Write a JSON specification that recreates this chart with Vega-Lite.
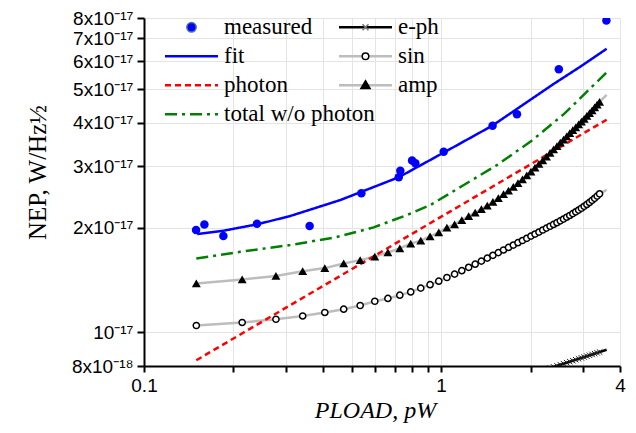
{
  "$schema": "https://vega.github.io/schema/vega-lite/v6.json",
  "width": 476,
  "height": 348,
  "autosize": {"type": "none"},
  "padding": {"left": 144, "top": 18, "right": 16, "bottom": 67},
  "background": "white",
  "config": {"view": {"stroke": null}},
  "data": {"values": [
    {"s":"measured","P":0.1497,"NEP":1.966e-17,"k":"m"},
    {"s":"measured","P":0.1597,"NEP":2.04e-17,"k":"m"},
    {"s":"measured","P":0.185,"NEP":1.89e-17,"k":"m"},
    {"s":"measured","P":0.24,"NEP":2.05e-17,"k":"m"},
    {"s":"measured","P":0.361,"NEP":2.02e-17,"k":"m"},
    {"s":"measured","P":0.539,"NEP":2.51e-17,"k":"m"},
    {"s":"measured","P":0.72,"NEP":2.789e-17,"k":"m"},
    {"s":"measured","P":0.729,"NEP":2.913e-17,"k":"m"},
    {"s":"measured","P":0.7985,"NEP":3.114e-17,"k":"m"},
    {"s":"measured","P":0.819,"NEP":3.06e-17,"k":"m"},
    {"s":"measured","P":1.02,"NEP":3.30e-17,"k":"m"},
    {"s":"measured","P":1.49,"NEP":3.92e-17,"k":"m"},
    {"s":"measured","P":1.80,"NEP":4.23e-17,"k":"m"},
    {"s":"measured","P":2.49,"NEP":5.70e-17,"k":"m"},
    {"s":"measured","P":3.60,"NEP":7.87e-17,"k":"m"},
    {"s":"fit","P":0.151,"NEP":1.915e-17,"k":"l"},
    {"s":"fit","P":0.185,"NEP":1.958e-17,"k":"l"},
    {"s":"fit","P":0.24,"NEP":2.042e-17,"k":"l"},
    {"s":"fit","P":0.3105,"NEP":2.158e-17,"k":"l"},
    {"s":"fit","P":0.458,"NEP":2.399e-17,"k":"l"},
    {"s":"fit","P":0.72,"NEP":2.789e-17,"k":"l"},
    {"s":"fit","P":1.02,"NEP":3.283e-17,"k":"l"},
    {"s":"fit","P":1.489,"NEP":3.926e-17,"k":"l"},
    {"s":"fit","P":2.396,"NEP":5.176e-17,"k":"l"},
    {"s":"fit","P":2.948,"NEP":5.805e-17,"k":"l"},
    {"s":"fit","P":3.606,"NEP":6.526e-17,"k":"l"},
    {"s":"photon","P":0.15,"NEP":8.31e-18,"k":"l"},
    {"s":"photon","P":3.606,"NEP":4.08e-17,"k":"l"},
    {"s":"total w/o photon","P":0.15,"NEP":1.630e-17,"k":"l"},
    {"s":"total w/o photon","P":0.2107,"NEP":1.703e-17,"k":"l"},
    {"s":"total w/o photon","P":0.3105,"NEP":1.781e-17,"k":"l"},
    {"s":"total w/o photon","P":0.44,"NEP":1.874e-17,"k":"l"},
    {"s":"total w/o photon","P":0.593,"NEP":2.002e-17,"k":"l"},
    {"s":"total w/o photon","P":0.768,"NEP":2.173e-17,"k":"l"},
    {"s":"total w/o photon","P":0.92,"NEP":2.321e-17,"k":"l"},
    {"s":"total w/o photon","P":1.192,"NEP":2.65e-17,"k":"l"},
    {"s":"total w/o photon","P":1.544,"NEP":3.026e-17,"k":"l"},
    {"s":"total w/o photon","P":2.0,"NEP":3.531e-17,"k":"l"},
    {"s":"total w/o photon","P":2.589,"NEP":4.234e-17,"k":"l"},
    {"s":"total w/o photon","P":3.268,"NEP":5.142e-17,"k":"l"},
    {"s":"total w/o photon","P":3.606,"NEP":5.578e-17,"k":"l"},
    {"s":"amp","P":0.150,"NEP":1.381e-17,"k":"b"},
    {"s":"amp","P":0.214,"NEP":1.418e-17,"k":"b"},
    {"s":"amp","P":0.278,"NEP":1.452e-17,"k":"b"},
    {"s":"amp","P":0.342,"NEP":1.498e-17,"k":"b"},
    {"s":"amp","P":0.406,"NEP":1.529e-17,"k":"b"},
    {"s":"amp","P":0.470,"NEP":1.577e-17,"k":"b"},
    {"s":"amp","P":0.534,"NEP":1.612e-17,"k":"b"},
    {"s":"amp","P":0.598,"NEP":1.650e-17,"k":"b"},
    {"s":"amp","P":0.662,"NEP":1.696e-17,"k":"b"},
    {"s":"amp","P":0.726,"NEP":1.742e-17,"k":"b"},
    {"s":"amp","P":0.790,"NEP":1.798e-17,"k":"b"},
    {"s":"amp","P":0.854,"NEP":1.834e-17,"k":"b"},
    {"s":"amp","P":0.918,"NEP":1.886e-17,"k":"b"},
    {"s":"amp","P":0.982,"NEP":1.937e-17,"k":"b"},
    {"s":"amp","P":1.046,"NEP":1.999e-17,"k":"b"},
    {"s":"amp","P":1.110,"NEP":2.042e-17,"k":"b"},
    {"s":"amp","P":1.174,"NEP":2.101e-17,"k":"b"},
    {"s":"amp","P":1.238,"NEP":2.158e-17,"k":"b"},
    {"s":"amp","P":1.302,"NEP":2.208e-17,"k":"b"},
    {"s":"amp","P":1.366,"NEP":2.260e-17,"k":"b"},
    {"s":"amp","P":1.430,"NEP":2.313e-17,"k":"b"},
    {"s":"amp","P":1.494,"NEP":2.371e-17,"k":"b"},
    {"s":"amp","P":1.558,"NEP":2.431e-17,"k":"b"},
    {"s":"amp","P":1.622,"NEP":2.496e-17,"k":"b"},
    {"s":"amp","P":1.686,"NEP":2.555e-17,"k":"b"},
    {"s":"amp","P":1.750,"NEP":2.615e-17,"k":"b"},
    {"s":"amp","P":1.814,"NEP":2.685e-17,"k":"b"},
    {"s":"amp","P":1.878,"NEP":2.752e-17,"k":"b"},
    {"s":"amp","P":1.942,"NEP":2.822e-17,"k":"b"},
    {"s":"amp","P":2.006,"NEP":2.896e-17,"k":"b"},
    {"s":"amp","P":2.070,"NEP":2.972e-17,"k":"b"},
    {"s":"amp","P":2.134,"NEP":3.046e-17,"k":"b"},
    {"s":"amp","P":2.198,"NEP":3.121e-17,"k":"b"},
    {"s":"amp","P":2.262,"NEP":3.199e-17,"k":"b"},
    {"s":"amp","P":2.326,"NEP":3.276e-17,"k":"b"},
    {"s":"amp","P":2.390,"NEP":3.353e-17,"k":"b"},
    {"s":"amp","P":2.454,"NEP":3.429e-17,"k":"b"},
    {"s":"amp","P":2.518,"NEP":3.505e-17,"k":"b"},
    {"s":"amp","P":2.582,"NEP":3.580e-17,"k":"b"},
    {"s":"amp","P":2.646,"NEP":3.657e-17,"k":"b"},
    {"s":"amp","P":2.710,"NEP":3.733e-17,"k":"b"},
    {"s":"amp","P":2.774,"NEP":3.808e-17,"k":"b"},
    {"s":"amp","P":2.838,"NEP":3.882e-17,"k":"b"},
    {"s":"amp","P":2.902,"NEP":3.957e-17,"k":"b"},
    {"s":"amp","P":2.966,"NEP":4.032e-17,"k":"b"},
    {"s":"amp","P":3.030,"NEP":4.107e-17,"k":"b"},
    {"s":"amp","P":3.094,"NEP":4.187e-17,"k":"b"},
    {"s":"amp","P":3.158,"NEP":4.265e-17,"k":"b"},
    {"s":"amp","P":3.222,"NEP":4.345e-17,"k":"b"},
    {"s":"amp","P":3.286,"NEP":4.426e-17,"k":"b"},
    {"s":"amp","P":3.350,"NEP":4.509e-17,"k":"b"},
    {"s":"amp","P":3.414,"NEP":4.591e-17,"k":"b"},
    {"s":"amp","P":3.606,"NEP":4.812e-17,"k":"l"},
    {"s":"sin","P":0.150,"NEP":1.046e-17,"k":"b"},
    {"s":"sin","P":0.214,"NEP":1.067e-17,"k":"b"},
    {"s":"sin","P":0.278,"NEP":1.090e-17,"k":"b"},
    {"s":"sin","P":0.342,"NEP":1.114e-17,"k":"b"},
    {"s":"sin","P":0.406,"NEP":1.140e-17,"k":"b"},
    {"s":"sin","P":0.470,"NEP":1.165e-17,"k":"b"},
    {"s":"sin","P":0.534,"NEP":1.194e-17,"k":"b"},
    {"s":"sin","P":0.598,"NEP":1.228e-17,"k":"b"},
    {"s":"sin","P":0.662,"NEP":1.251e-17,"k":"b"},
    {"s":"sin","P":0.726,"NEP":1.278e-17,"k":"b"},
    {"s":"sin","P":0.790,"NEP":1.306e-17,"k":"b"},
    {"s":"sin","P":0.854,"NEP":1.339e-17,"k":"b"},
    {"s":"sin","P":0.918,"NEP":1.370e-17,"k":"b"},
    {"s":"sin","P":0.982,"NEP":1.402e-17,"k":"b"},
    {"s":"sin","P":1.046,"NEP":1.437e-17,"k":"b"},
    {"s":"sin","P":1.110,"NEP":1.469e-17,"k":"b"},
    {"s":"sin","P":1.174,"NEP":1.503e-17,"k":"b"},
    {"s":"sin","P":1.238,"NEP":1.537e-17,"k":"b"},
    {"s":"sin","P":1.302,"NEP":1.569e-17,"k":"b"},
    {"s":"sin","P":1.366,"NEP":1.601e-17,"k":"b"},
    {"s":"sin","P":1.430,"NEP":1.633e-17,"k":"b"},
    {"s":"sin","P":1.494,"NEP":1.664e-17,"k":"b"},
    {"s":"sin","P":1.558,"NEP":1.694e-17,"k":"b"},
    {"s":"sin","P":1.622,"NEP":1.724e-17,"k":"b"},
    {"s":"sin","P":1.686,"NEP":1.753e-17,"k":"b"},
    {"s":"sin","P":1.750,"NEP":1.781e-17,"k":"b"},
    {"s":"sin","P":1.814,"NEP":1.809e-17,"k":"b"},
    {"s":"sin","P":1.878,"NEP":1.835e-17,"k":"b"},
    {"s":"sin","P":1.942,"NEP":1.862e-17,"k":"b"},
    {"s":"sin","P":2.006,"NEP":1.889e-17,"k":"b"},
    {"s":"sin","P":2.070,"NEP":1.915e-17,"k":"b"},
    {"s":"sin","P":2.134,"NEP":1.941e-17,"k":"b"},
    {"s":"sin","P":2.198,"NEP":1.967e-17,"k":"b"},
    {"s":"sin","P":2.262,"NEP":1.992e-17,"k":"b"},
    {"s":"sin","P":2.326,"NEP":2.017e-17,"k":"b"},
    {"s":"sin","P":2.390,"NEP":2.041e-17,"k":"b"},
    {"s":"sin","P":2.454,"NEP":2.065e-17,"k":"b"},
    {"s":"sin","P":2.518,"NEP":2.090e-17,"k":"b"},
    {"s":"sin","P":2.582,"NEP":2.115e-17,"k":"b"},
    {"s":"sin","P":2.646,"NEP":2.141e-17,"k":"b"},
    {"s":"sin","P":2.710,"NEP":2.166e-17,"k":"b"},
    {"s":"sin","P":2.774,"NEP":2.192e-17,"k":"b"},
    {"s":"sin","P":2.838,"NEP":2.219e-17,"k":"b"},
    {"s":"sin","P":2.902,"NEP":2.245e-17,"k":"b"},
    {"s":"sin","P":2.966,"NEP":2.272e-17,"k":"b"},
    {"s":"sin","P":3.030,"NEP":2.301e-17,"k":"b"},
    {"s":"sin","P":3.094,"NEP":2.330e-17,"k":"b"},
    {"s":"sin","P":3.158,"NEP":2.361e-17,"k":"b"},
    {"s":"sin","P":3.222,"NEP":2.393e-17,"k":"b"},
    {"s":"sin","P":3.286,"NEP":2.426e-17,"k":"b"},
    {"s":"sin","P":3.350,"NEP":2.462e-17,"k":"b"},
    {"s":"sin","P":3.414,"NEP":2.500e-17,"k":"b"},
    {"s":"sin","P":3.606,"NEP":2.564e-17,"k":"l"},
    {"s":"e-ph","P":2.2,"NEP":7.77e-18,"k":"l"},
    {"s":"e-ph","P":2.485,"NEP":8.04e-18,"k":"l"},
    {"s":"e-ph","P":3.312,"NEP":8.70e-18,"k":"l"},
    {"s":"e-ph","P":3.606,"NEP":8.91e-18,"k":"l"},
    {"s":"e-ph","P":2.262,"NEP":7.835e-18,"k":"m"},
    {"s":"e-ph","P":2.326,"NEP":7.897e-18,"k":"m"},
    {"s":"e-ph","P":2.390,"NEP":7.954e-18,"k":"m"},
    {"s":"e-ph","P":2.454,"NEP":8.01e-18,"k":"m"},
    {"s":"e-ph","P":2.518,"NEP":8.07e-18,"k":"m"},
    {"s":"e-ph","P":2.582,"NEP":8.125e-18,"k":"m"},
    {"s":"e-ph","P":2.646,"NEP":8.18e-18,"k":"m"},
    {"s":"e-ph","P":2.710,"NEP":8.234e-18,"k":"m"},
    {"s":"e-ph","P":2.774,"NEP":8.287e-18,"k":"m"},
    {"s":"e-ph","P":2.838,"NEP":8.339e-18,"k":"m"},
    {"s":"e-ph","P":2.902,"NEP":8.39e-18,"k":"m"},
    {"s":"e-ph","P":2.966,"NEP":8.441e-18,"k":"m"},
    {"s":"e-ph","P":3.030,"NEP":8.491e-18,"k":"m"},
    {"s":"e-ph","P":3.094,"NEP":8.54e-18,"k":"m"},
    {"s":"e-ph","P":3.158,"NEP":8.588e-18,"k":"m"},
    {"s":"e-ph","P":3.222,"NEP":8.636e-18,"k":"m"},
    {"s":"e-ph","P":3.286,"NEP":8.682e-18,"k":"m"},
    {"s":"e-ph","P":3.350,"NEP":8.729e-18,"k":"m"},
    {"s":"e-ph","P":3.414,"NEP":8.775e-18,"k":"m"}
  ]},
  "encoding": {
    "x": {
      "field": "P", "type": "quantitative",
      "scale": {"type": "log", "domain": [0.1, 4], "nice": false},
      "axis": {
        "values": [0.1, 0.2, 0.3, 0.4, 0.5, 0.6, 0.7, 0.8, 0.9, 1, 2, 3, 4],
        "labelExpr": "datum.value == 0.1 ? '0.1' : (datum.value == 1 ? '1' : (datum.value == 4 ? '4' : ''))",
        "labelFlush": false, "labelOverlap": false,
        "labelFont": "Liberation Sans", "labelFontSize": 19, "labelColor": "#000000", "labelPadding": 4,
        "tickSize": 6, "tickWidth": 2, "tickColor": "#000000",
        "domainColor": "#000000", "domainWidth": 2,
        "grid": true, "gridColor": "#e4e4e4", "gridWidth": 1,
        "title": "PLOAD, pW", "titleFont": "Liberation Serif", "titleFontSize": 24,
        "titleFontWeight": "normal", "titleFontStyle": "italic", "titleColor": "#000000",
        "titleX": 231, "titleY": 51, "titleBaseline": "alphabetic", "titleAlign": "center"
      }
    },
    "y": {
      "field": "NEP", "type": "quantitative",
      "scale": {"type": "log", "domain": [8e-18, 8e-17], "nice": false},
      "axis": {
        "values": [8e-18, 1e-17, 2e-17, 3e-17, 4e-17, 5e-17, 6e-17, 7e-17, 8e-17],
        "labelExpr": "datum.value < 9e-18 ? '8x10⁻¹⁸' : (datum.value < 1.5e-17 ? '10⁻¹⁷' : round(datum.value * 1e17) + 'x10⁻¹⁷')",
        "labelOverlap": false, "labelFlush": false,
        "labelFont": "Liberation Sans", "labelFontSize": 19, "labelColor": "#000000", "labelPadding": 4,
        "tickSize": 7, "tickWidth": 2, "tickColor": "#000000",
        "domainColor": "#000000", "domainWidth": 2,
        "grid": true, "gridColor": "#e4e4e4", "gridWidth": 1,
        "title": "NEP, W/Hz½", "titleFont": "Liberation Serif", "titleFontSize": 25,
        "titleFontWeight": "normal", "titleColor": "#000000",
        "titleX": -99, "titleY": 154, "titleAngle": -90, "titleBaseline": "alphabetic", "titleAlign": "center"
      }
    }
  },
  "layer": [
    {
      "transform": [{"filter": "datum.k != 'm' && (datum.s == 'e-ph' || datum.s == 'sin' || datum.s == 'amp')"}],
      "mark": {"type": "line", "strokeWidth": 2.5, "clip": true},
      "encoding": {
        "stroke": {
          "field": "s", "type": "nominal",
          "scale": {"domain": ["e-ph", "sin", "amp"], "range": ["#000000", "#bdbdbd", "#bdbdbd"]},
          "legend": {"title": null, "orient": "none", "direction": "vertical", "legendX": 193.5, "legendY": -2.2, "rowPadding": 5, "clipHeight": 23, "symbolType": "stroke", "symbolSize": 2809, "symbolStrokeWidth": 2.5, "symbolOffset": 0, "labelFont": "Liberation Serif", "labelFontSize": 23, "labelColor": "#000000", "labelOffset": 4.5, "labelLimit": 400, "padding": 0}
        }
      }
    },
    {
      "transform": [{"filter": "datum.k != 'm' && (datum.s == 'fit' || datum.s == 'photon' || datum.s == 'total w/o photon')"}],
      "mark": {"type": "line", "strokeWidth": 2.5, "clip": true},
      "encoding": {
        "stroke": {
          "field": "s", "type": "nominal",
          "scale": {"domain": ["measured", "fit", "photon", "total w/o photon"], "range": ["transparent", "#0000ff", "#ff0000", "#008000"]},
          "legend": {"title": null, "orient": "none", "direction": "vertical", "legendX": 19.5, "legendY": -2.2, "rowPadding": 5, "clipHeight": 23, "symbolType": "stroke", "symbolSize": 2809, "symbolStrokeWidth": 2.5, "symbolOffset": 0, "labelFont": "Liberation Serif", "labelFontSize": 23, "labelColor": "#000000", "labelOffset": 4.5, "labelLimit": 400, "padding": 0}
        },
        "strokeDash": {
          "field": "s", "type": "nominal",
          "scale": {"domain": ["measured", "fit", "photon", "total w/o photon"], "range": [[1, 0], [1, 0], [6, 4], [12, 5, 3, 5]]},
          "legend": {"title": null, "orient": "none", "direction": "vertical", "legendX": 19.5, "legendY": -2.2, "rowPadding": 5, "clipHeight": 23, "symbolType": "stroke", "symbolSize": 2809, "symbolStrokeWidth": 2.5, "symbolOffset": 0, "labelFont": "Liberation Serif", "labelFontSize": 23, "labelColor": "#000000", "labelOffset": 4.5, "labelLimit": 400, "padding": 0}
        }
      }
    },
    {
      "transform": [{"filter": "datum.s == 'measured'"}],
      "mark": {"type": "point", "shape": "circle", "filled": true, "color": "#0000ff", "size": 72, "opacity": 1, "clip": true}
    },
    {
      "transform": [{"filter": "datum.s == 'sin' && datum.k == 'b'"}],
      "mark": {"type": "point", "shape": "circle", "fill": "#ffffff", "stroke": "#000000", "strokeWidth": 1.5, "size": 38, "opacity": 1, "clip": true}
    },
    {
      "transform": [{"filter": "datum.s == 'amp' && datum.k == 'b'"}],
      "mark": {"type": "point", "shape": "triangle-up", "filled": true, "color": "#000000", "size": 80, "opacity": 1, "clip": true}
    },
    {
      "transform": [{"filter": "datum.s == 'e-ph' && datum.k == 'm'"}],
      "mark": {"type": "point", "shape": "M-1,-1L1,1M-1,1L1,-1", "filled": false, "stroke": "#222222", "strokeWidth": 1, "size": 30, "opacity": 1, "clip": true}
    },
    {
      "transform": [{"filter": "false"}],
      "mark": {"type": "point", "strokeWidth": 1.5, "opacity": 1},
      "encoding": {
        "shape": {
          "field": "s", "type": "nominal",
          "scale": {"domain": ["measured", "fit", "photon", "total w/o photon"],
                    "range": ["M-1,0M1,0M0.174,0A0.174,0.174,0,1,1,-0.174,0A0.174,0.174,0,1,1,0.174,0Z", "M-1,0M1,0", "M-1,0M1,0", "M-1,0M1,0"]},
          "legend": {"title": null, "orient": "none", "direction": "vertical", "legendX": 19.5, "legendY": -2.2, "rowPadding": 5, "clipHeight": 23, "symbolSize": 2916, "symbolStrokeWidth": 1.5, "symbolOffset": 0, "symbolFillColor": "transparent", "labelFont": "Liberation Serif", "labelFontSize": 23, "labelOpacity": 0, "labelOffset": 4.5, "labelLimit": 400, "padding": 0}
        },
        "fill": {
          "field": "s", "type": "nominal",
          "scale": {"domain": ["measured", "fit", "photon", "total w/o photon"], "range": ["#0000ff", "transparent", "transparent", "transparent"]},
          "legend": {"title": null, "orient": "none", "direction": "vertical", "legendX": 19.5, "legendY": -2.2, "rowPadding": 5, "clipHeight": 23, "symbolSize": 2916, "symbolStrokeWidth": 1.5, "symbolOffset": 0, "symbolFillColor": "transparent", "labelFont": "Liberation Serif", "labelFontSize": 23, "labelOpacity": 0, "labelOffset": 4.5, "labelLimit": 400, "padding": 0}
        }
      }
    },
    {
      "transform": [{"filter": "false"}],
      "mark": {"type": "point", "strokeWidth": 1.5, "opacity": 1},
      "encoding": {
        "shape": {
          "field": "s", "type": "nominal",
          "scale": {"domain": ["e-ph", "sin", "amp"],
                    "range": ["M-1,0M1,0M-0.11,-0.11L0.11,0.11M-0.11,0.11L0.11,-0.11",
                              "M-1,0M1,0M0.122,0A0.122,0.122,0,1,1,-0.122,0A0.122,0.122,0,1,1,0.122,0Z",
                              "M-1,0M1,0M0,-0.17L0.17,0.12L-0.17,0.12Z"]},
          "legend": {"title": null, "orient": "none", "direction": "vertical", "legendX": 193.5, "legendY": -2.2, "rowPadding": 5, "clipHeight": 23, "symbolSize": 2916, "symbolStrokeWidth": 1.5, "symbolOffset": 0, "symbolFillColor": "transparent", "labelFont": "Liberation Serif", "labelFontSize": 23, "labelOpacity": 0, "labelOffset": 4.5, "labelLimit": 400, "padding": 0}
        },
        "fill": {
          "field": "s", "type": "nominal",
          "scale": {"domain": ["e-ph", "sin", "amp"], "range": ["transparent", "#ffffff", "#000000"]},
          "legend": {"title": null, "orient": "none", "direction": "vertical", "legendX": 193.5, "legendY": -2.2, "rowPadding": 5, "clipHeight": 23, "symbolSize": 2916, "symbolStrokeWidth": 1.5, "symbolOffset": 0, "symbolFillColor": "transparent", "labelFont": "Liberation Serif", "labelFontSize": 23, "labelOpacity": 0, "labelOffset": 4.5, "labelLimit": 400, "padding": 0}
        },
        "stroke": {
          "field": "s", "type": "nominal",
          "scale": {"domain": ["e-ph", "sin", "amp"], "range": ["#777777", "#000000", "#000000"]},
          "legend": {"title": null, "orient": "none", "direction": "vertical", "legendX": 193.5, "legendY": -2.2, "rowPadding": 5, "clipHeight": 23, "symbolSize": 2916, "symbolStrokeWidth": 1.5, "symbolOffset": 0, "symbolFillColor": "transparent", "labelFont": "Liberation Serif", "labelFontSize": 23, "labelOpacity": 0, "labelOffset": 4.5, "labelLimit": 400, "padding": 0}
        }
      }
    }
  ],
  "resolve": {"scale": {"stroke": "independent", "strokeDash": "independent", "shape": "independent", "fill": "independent"}}
}
